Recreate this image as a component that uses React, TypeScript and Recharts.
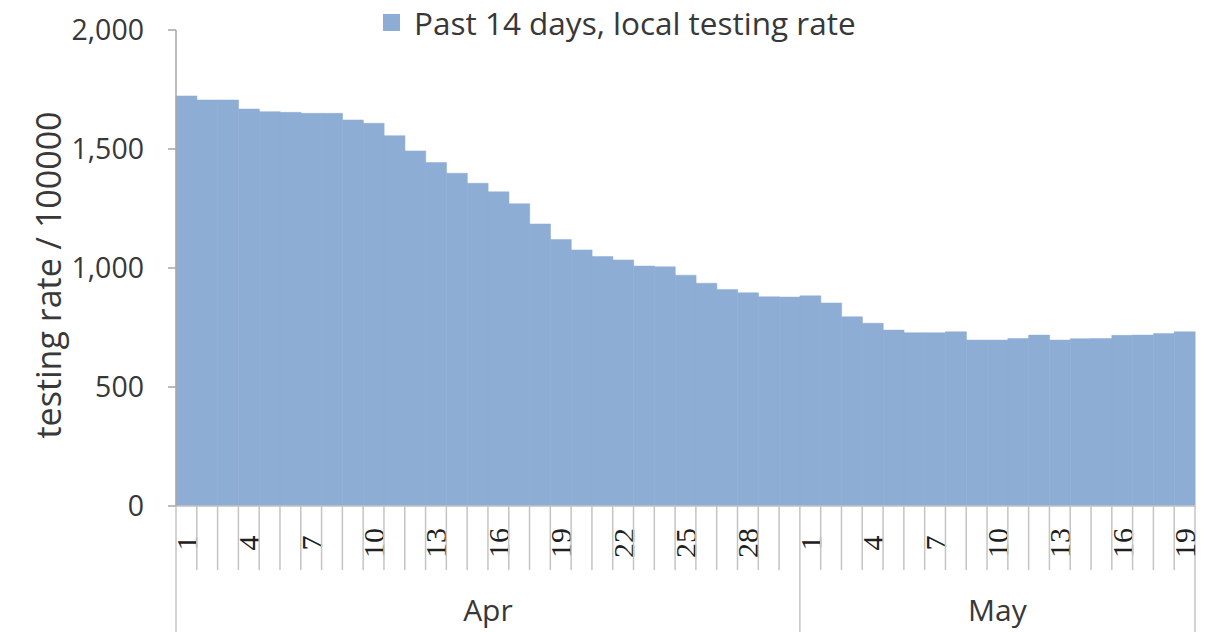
import React from 'react';
import { BarChart, Bar, XAxis, YAxis, Legend } from 'recharts';

// Categories: one bar per day, April 1 - May 19
const aprDays = ['1', '2', '3', '4', '5', '6', '7', '8', '9', '10', '11', '12', '13', '14', '15',
  '16', '17', '18', '19', '20', '21', '22', '23', '24', '25', '26', '27', '28', '29', '30'];
const mayDays = ['1', '2', '3', '4', '5', '6', '7', '8', '9', '10', '11', '12', '13', '14', '15',
  '16', '17', '18', '19'];
const monthNames = ['Apr', 'May'];

// Past 14 days, local testing rate (per 100000)
const aprValues = [1723, 1706, 1706, 1668, 1657, 1654, 1650, 1650, 1622, 1608, 1556, 1492, 1443, 1398, 1356,
  1320, 1270, 1185, 1120, 1076, 1048, 1034, 1008, 1005, 970, 936, 910, 896, 879, 878];
const mayValues = [883, 853, 795, 768, 739, 728, 728, 732, 697, 697, 704, 718, 697, 703, 704,
  717, 718, 725, 732];

const yTicks = [0, 500, 1000, 1500, 2000];
const labeledDays = ['1', '4', '7', '10', '13', '16', '19', '22', '25', '28'];

const seriesName = 'Past 14 days, local testing rate';
const yTitle = 'testing rate / 100000';

const BAR_COLOR = '#8eadd5';
const TEXT = '#383838';
const GRID = '#c4c4c4';
const FONT = '"Open Sans", Lato, sans-serif';

const monthDays = [aprDays, mayDays];
const monthValues = [aprValues, mayValues];

const data = monthNames.flatMap((m, mi) =>
  monthDays[mi].map((d, di) => ({
    key: `${m} ${d}`,
    month: m,
    day: d,
    first: di === 0,
    monthLen: monthDays[mi].length,
    value: monthValues[mi][di],
  }))
);

const DayTick = (props: any) => {
  const { x, y, payload } = props;
  const i = payload.index ?? props.index;
  const row = data[i];
  if (!row) return null;
  const half = payload.offset ?? 0;
  const left = x - half;
  const right = x + half;
  const isLast = i === data.length - 1;
  return (
    <g>
      <line x1={left} y1={y} x2={left} y2={row.first ? y + 126 : y + 64} stroke={GRID} strokeWidth={1.5} />
      {isLast && <line x1={right} y1={y} x2={right} y2={y + 126} stroke={GRID} strokeWidth={1.5} />}
      {labeledDays.includes(row.day) && (
        <text
          x={x}
          y={y + 37}
          transform={`rotate(-90 ${x} ${y + 37})`}
          textAnchor="middle"
          dominantBaseline="central"
          fill="#202020"
          fontSize={30}
          fontFamily='"Liberation Serif", serif'
        >
          {row.day}
        </text>
      )}
      {row.first && (
        <text
          x={left + row.monthLen * half}
          y={y + 115}
          textAnchor="middle"
          fill={TEXT}
          fontSize={30}
          fontFamily={FONT}
        >
          {row.month}
        </text>
      )}
    </g>
  );
};

const YTitle = (props: any) => {
  const vb = props.viewBox || {};
  const cy = (vb.y ?? 0) + (vb.height ?? 0) / 2 + 7;
  const cx = 48;
  return (
    <text
      x={cx}
      y={cy}
      transform={`rotate(-90 ${cx} ${cy})`}
      textAnchor="middle"
      dominantBaseline="central"
      fill={TEXT}
      fontSize={34}
      fontFamily={FONT}
    >
      {yTitle}
    </text>
  );
};

const LegendBox = () => (
  <div style={{ display: 'flex', alignItems: 'center', fontFamily: FONT, fontSize: 31.5, color: TEXT, whiteSpace: 'nowrap' }}>
    <span style={{ display: 'inline-block', width: 17, height: 17, background: BAR_COLOR, marginRight: 14 }} />
    <span>{seriesName}</span>
  </div>
);

export default function App() {
  return (
    <div style={{ position: 'absolute', left: 0, top: 0, width: 1209, height: 632, background: '#fff' }}>
      <BarChart
        width={1209}
        height={632}
        data={data}
        barCategoryGap={0}
        barGap={0}
        margin={{ top: 30, right: 14, bottom: 0, left: 0 }}
      >
        <XAxis
          dataKey="key"
          interval={0}
          tickLine={false}
          tickSize={0}
          tickMargin={0}
          height={126}
          axisLine={{ stroke: GRID, strokeWidth: 1.5 }}
          tick={<DayTick />}
        />
        <YAxis
          domain={[0, 2000]}
          ticks={yTicks}
          width={176}
          tickSize={8}
          tickMargin={24}
          axisLine={{ stroke: '#a6a6a6', strokeWidth: 1.5 }}
          tickLine={{ stroke: '#a6a6a6', strokeWidth: 1.5 }}
          tick={{ fill: TEXT, fontSize: 28.5, fontFamily: FONT }}
          tickFormatter={(v: number) => v.toLocaleString('en-US')}
          label={{ content: <YTitle /> }}
        />
        <Legend
          layout="horizontal"
          verticalAlign="middle"
          align="center"
          wrapperStyle={{ top: 1, left: 383, width: 600 }}
          content={<LegendBox />}
        />
        <Bar
          dataKey="value"
          name={seriesName}
          fill={BAR_COLOR}
          stroke={BAR_COLOR}
          strokeWidth={0.5}
          isAnimationActive={false}
        />
      </BarChart>
    </div>
  );
}
